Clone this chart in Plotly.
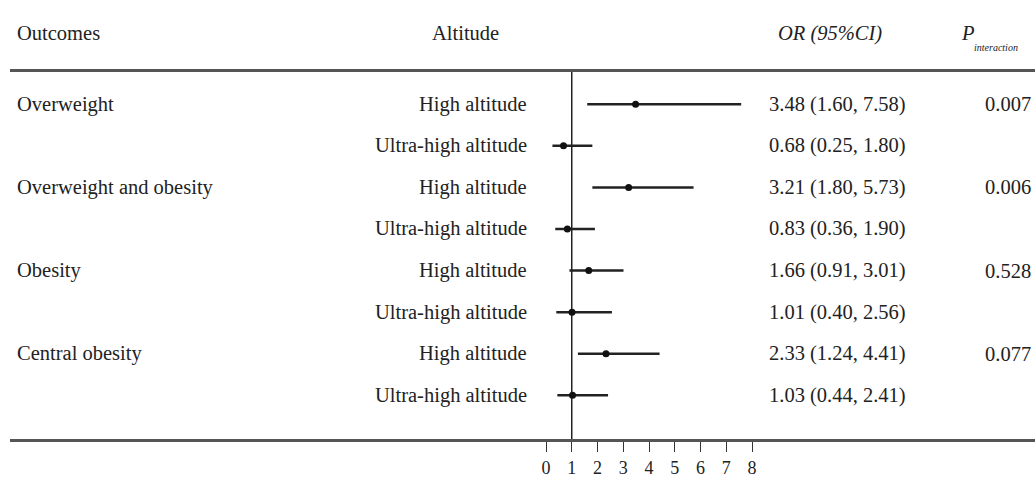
import plotly.graph_objects as go

# ---- data ----
outcomes = ["Overweight", "Overweight and obesity", "Obesity", "Central obesity"]
altitudes = ["High altitude", "Ultra-high altitude"]
or_vals = [3.48, 0.68, 3.21, 0.83, 1.66, 1.01, 2.33, 1.03]
ci_low = [1.60, 0.25, 1.80, 0.36, 0.91, 0.40, 1.24, 0.44]
ci_high = [7.58, 1.80, 5.73, 1.90, 3.01, 2.56, 4.41, 2.41]
p_interaction = ["0.007", "0.006", "0.528", "0.077"]
tick_vals = [0, 1, 2, 3, 4, 5, 6, 7, 8]
null_or = 1

FONT = "Liberation Serif, Times New Roman, serif"
FS = 20.5
W, H = 1035, 478

rows = list(range(len(or_vals)))
row_alt = [altitudes[i % 2] for i in rows]
or_text = [f"{o:.2f} ({l:.2f}, {h:.2f})" for o, l, h in zip(or_vals, ci_low, ci_high)]

fig = go.Figure()
fig.add_trace(go.Scatter(
    x=or_vals, y=rows, mode="markers",
    marker=dict(size=7, color="#111"),
    error_x=dict(type="data", symmetric=False,
                 array=[h - o for h, o in zip(ci_high, or_vals)],
                 arrayminus=[o - l for o, l in zip(or_vals, ci_low)],
                 width=0, thickness=2.5, color="#222"),
    showlegend=False, hoverinfo="skip"))

annotations = []
def ann(text, x, y, xanchor, yref="y", size=FS):
    annotations.append(dict(text=text, x=x, y=y, xref="paper", yref=yref,
                            xanchor=xanchor, yanchor="middle", showarrow=False,
                            font=dict(family=FONT, size=size, color="#222")))

for i, name in enumerate(outcomes):
    ann(name, 15 / W, 2 * i, "left")
    ann(p_interaction[i], 983 / W, 2 * i, "left")
for r in rows:
    ann(row_alt[r], 529 / W, r, "right")
    ann(or_text[r], 767 / W, r, "left")

hy = 1.105
ann("Outcomes", 15 / W, hy, "left", yref="paper")
ann("Altitude", 465 / W, hy, "center", yref="paper")
ann("<i>OR (95%CI)</i>", 830 / W, hy, "center", yref="paper")
ann("<i>P</i>", 959 / W, hy, "left", yref="paper")
ann("<i>interaction</i>", 972 / W, 1.068, "left", yref="paper", size=10)

fig.add_shape(type="line", xref="x", yref="paper", x0=null_or, x1=null_or, y0=0, y1=1,
              line=dict(color="#222", width=1.5), layer="below")

px_per_unit = 25.75
x0_px = 546
dom_left = 10
fig.update_layout(
    width=W, height=H,
    margin=dict(l=0, r=0, t=72, b=30),
    paper_bgcolor="white", plot_bgcolor="white",
    annotations=annotations,
    xaxis=dict(domain=[dom_left / W, 1],
               range=[-(x0_px - dom_left) / px_per_unit, (W - x0_px) / px_per_unit],
               tickvals=tick_vals, ticktext=[str(v) for v in tick_vals],
               ticks="outside", ticklen=10, tickwidth=1.2, tickcolor="#333",
               tickfont=dict(family=FONT, size=18, color="#222"),
               showgrid=False, zeroline=False,
               showline=True, mirror=True, linecolor="#555", linewidth=3),
    yaxis=dict(range=[8.05, -0.775], visible=False, showgrid=False, zeroline=False),
)

fig.write_html("out.html", config={"displayModeBar": False},
               post_script="document.body.style.margin='0';")
